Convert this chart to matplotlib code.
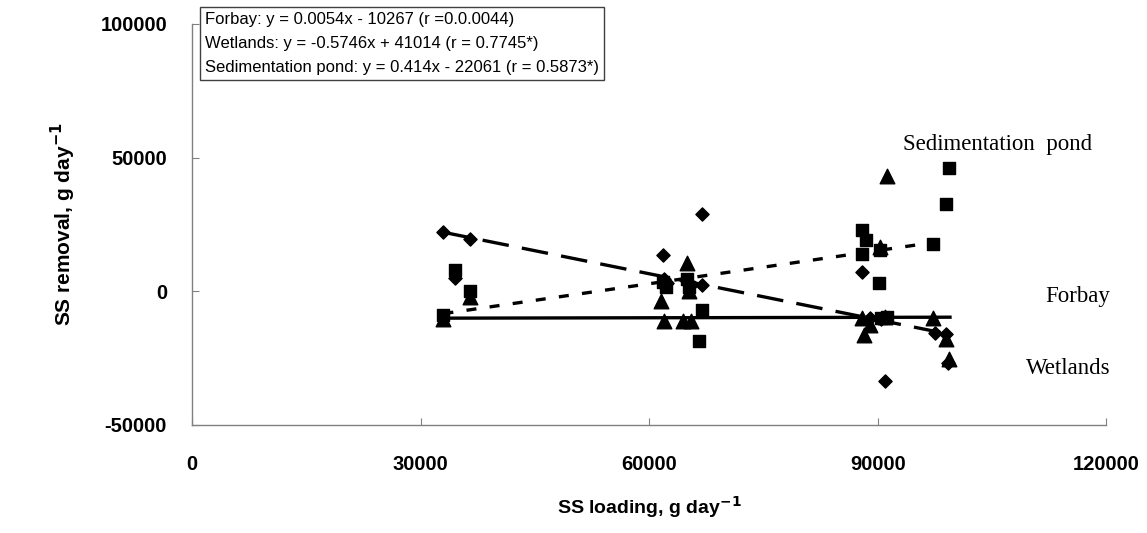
import numpy as np
import matplotlib
matplotlib.use("Agg")
import matplotlib.pyplot as plt

plt.rcParams['font.family'] = ['Liberation Sans', 'DejaVu Sans']
plt.rcParams['axes.unicode_minus'] = False

# Forbay (triangles)
forbay_x = [33000, 36500, 61500, 62000, 64500, 65000, 65200, 65500, 88000, 88200,
            89000, 90300, 91200, 91000, 97300, 99000, 99400]
forbay_y = [-10500, -2000, -3500, -11000, -11000, 10500, 0, -11000, -10000, -16500,
            -12500, 16500, 43000, -9500, -10000, -18000, -25500]

# Wetlands (diamonds)
wet_x = [33000, 34500, 36500, 61800, 62000, 62300, 65000, 65500, 67000, 67000,
         88000, 89000, 90500, 91000, 97500, 99000, 99300]
wet_y = [22000, 5000, 19500, 13500, 4500, 3000, 4000, 2500, 29000, 2500,
         7000, -10000, -10500, -33500, -15500, -16000, -27000]

# Sedimentation pond (squares)
sed_x = [33000, 34500, 36500, 61800, 62200, 65000, 65300, 66500, 67000, 88000,
         88500, 88000, 90300, 90200, 91200, 90500, 97300, 99000, 99400]
sed_y = [-9000, 8000, 0, 3500, 1500, 4500, 1500, -18500, -7000, 23000,
         19000, 14000, 15500, 3000, -9500, -10000, 17500, 32500, 46000]

# regression coefficients (slope, intercept)
forbay_fit = (0.0054, -10267)
wet_fit = (-0.5746, 41014)
sed_fit = (0.414, -22061)

fig = plt.figure(figsize=(11.47, 5.33), dpi=100)
ax = fig.add_axes([0.1674, 0.203, 0.797, 0.752])

xx = np.array([33000, 99500])
ax.plot(xx, forbay_fit[0] * xx + forbay_fit[1], color='black', lw=2.4, zorder=2)
ax.plot(xx, wet_fit[0] * xx + wet_fit[1], color='black', lw=2.4,
        dashes=(8, 4), zorder=2)
ax.plot(xx, sed_fit[0] * xx + sed_fit[1], color='black', lw=2.4,
        dashes=(3, 4), zorder=2)

ax.scatter(wet_x, wet_y, marker='D', s=45, color='black', zorder=3)
ax.scatter(sed_x, sed_y, marker='s', s=70, color='black', zorder=3)
ax.scatter(forbay_x, forbay_y, marker='^', s=110, color='black', zorder=3)

ax.set_xlim(0, 120000)
ax.set_ylim(-50000, 100000)
ax.set_xticks([0, 30000, 60000, 90000, 120000])
ax.set_yticks([-50000, 0, 50000, 100000])

for side in ['top', 'right']:
    ax.spines[side].set_visible(False)
for side in ['left', 'bottom']:
    ax.spines[side].set_color('#808080')
    ax.spines[side].set_linewidth(1)

ax.tick_params(direction='in', length=5, color='#808080', labelsize=14.5)
ax.tick_params(axis='y', pad=18)
ax.tick_params(axis='x', pad=22)
for lab in ax.get_xticklabels() + ax.get_yticklabels():
    lab.set_fontweight('bold')

ax.set_xlabel('SS loading, g day$^{\\mathbf{-1}}$', fontsize=14, fontweight='bold', labelpad=14)
ax.set_ylabel('SS removal, g day$^{\\mathbf{-1}}$', fontsize=15, fontweight='bold', labelpad=16)

box_text = ("Forbay: y = 0.0054x - 10267 (r =0.0.0044)\n"
            "Wetlands: y = -0.5746x + 41014 (r = 0.7745*)\n"
            "Sedimentation pond: y = 0.414x - 22061 (r = 0.5873*)")
fig.text(205 / 1147, 1 - 12 / 533, box_text, fontsize=12, va='top', ha='left',
         linespacing=1.75,
         bbox=dict(boxstyle='square,pad=0.3', fc='white', ec='#404040', lw=1))

ax.text(105800, 54800, 'Sedimentation  pond', family='Liberation Serif',
        fontsize=16.5, ha='center', va='center')
ax.text(116300, -1900, 'Forbay', family='Liberation Serif',
        fontsize=16.5, ha='center', va='center')
ax.text(115000, -29100, 'Wetlands', family='Liberation Serif',
        fontsize=16.5, ha='center', va='center')

fig.savefig('out.png', dpi=100)
